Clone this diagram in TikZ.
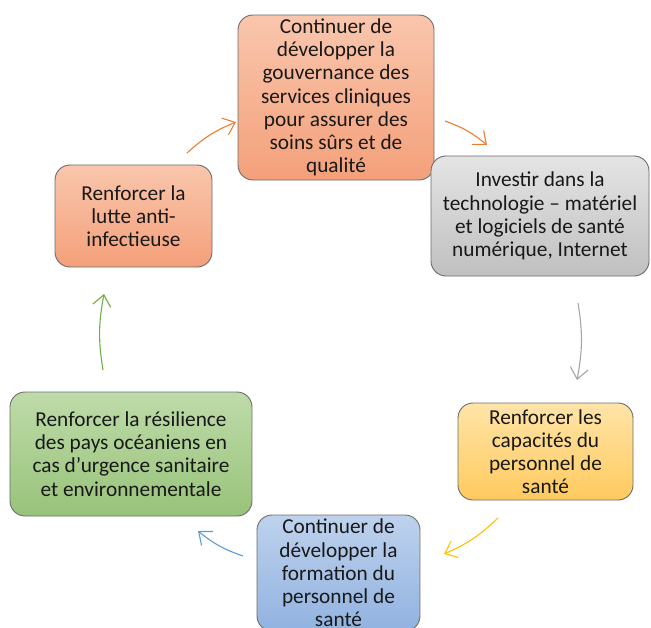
\documentclass[tikz,border=0pt]{standalone}
\usepackage{fontspec}
\setmainfont{Carlito}
\usetikzlibrary{arrows.meta}
\definecolor{boxline}{HTML}{6B6B6B}
\definecolor{orangeTop}{HTML}{F9C6AD}
\definecolor{orangeBot}{HTML}{F4A07A}
\definecolor{grayTop}{HTML}{E4E4E4}
\definecolor{grayBot}{HTML}{C0C0C0}
\definecolor{yellowTop}{HTML}{FFE4A8}
\definecolor{yellowBot}{HTML}{FFCA5E}
\definecolor{greenTop}{HTML}{BEDBA9}
\definecolor{greenBot}{HTML}{98C37A}
\definecolor{blueTop}{HTML}{BED2ED}
\definecolor{blueBot}{HTML}{91B2E0}
\definecolor{arrOrange}{HTML}{ED7D31}
\definecolor{arrGray}{HTML}{A5A5A5}
\definecolor{arrYellow}{HTML}{FFC000}
\definecolor{arrBlue}{HTML}{5B9BD5}
\definecolor{arrGreen}{HTML}{70AD47}

\begin{document}
\begin{tikzpicture}[x=1pt, y=-1pt,
	box/.style={draw=boxline, line width=0.9pt, rounded corners=15pt, align=center,
		inner sep=0pt, text=black!90, font=\fontsize{21.3}{23.2}\selectfont},
	flow/.style={line width=1.1pt, -{Straight Barb[length=11pt,width=18pt]}}]
	\useasboundingbox (0,0) rectangle (651,627);
	\clip (0,0) rectangle (651,627);
	\node[box, top color=orangeTop, bottom color=orangeBot, minimum width=196pt, minimum height=165pt] (gouv) at (336,97.5)
		{Continuer de\\développer la\\gouvernance des\\services cliniques\\pour assurer des\\soins sûrs et de\\qualité};
	\node[box, top color=grayTop, bottom color=grayBot, minimum width=218pt, minimum height=120pt] (techno) at (540,216)
		{Investir dans la\\technologie – matériel\\et logiciels de santé\\numérique, Internet};
	\node[box, top color=yellowTop, bottom color=yellowBot, minimum width=175pt, minimum height=97pt] (capa) at (545.5,451.5)
		{Renforcer les\\capacités du\\personnel de\\santé};
	\node[box, top color=blueTop, bottom color=blueBot, minimum width=163pt, minimum height=116pt] (form) at (338.5,573)
		{Continuer de\\développer la\\formation du\\personnel de\\santé};
	\node[box, top color=greenTop, bottom color=greenBot, minimum width=242pt, minimum height=124pt] (resil) at (131,454)
		{Renforcer la résilience\\des pays océaniens en\\cas d’urgence sanitaire\\et environnementale};
	\node[box, top color=orangeTop, bottom color=orangeBot, minimum width=157pt, minimum height=102pt] (lutte) at (133.5,216)
		{Renforcer la\\lutte anti-\\infectieuse};
	\coordinate (gouvIn) at (236,122);
	\coordinate (gouvOut) at (445,121);
	\coordinate (technoIn) at (487,145);
	\coordinate (technoOut) at (578,303);
	\coordinate (capaIn) at (577,380);
	\coordinate (capaOut) at (498,518);
	\coordinate (formIn) at (444,554);
	\coordinate (formOut) at (243,556);
	\coordinate (resilIn) at (198,531);
	\coordinate (resilOut) at (103,370);
	\coordinate (lutteIn) at (104,294);
	\coordinate (lutteOut) at (187,153);
	\draw[flow, arrOrange] (lutteOut) to[bend left=10] (gouvIn);
	\draw[flow, arrOrange] (gouvOut) to[bend left=10] (technoIn);
	\draw[flow, arrGray] (technoOut) to[bend left=10] (capaIn);
	\draw[flow, arrYellow] (capaOut) to[bend left=10] (formIn);
	\draw[flow, arrBlue] (formOut) to[bend left=10] (resilIn);
	\draw[flow, arrGreen] (resilOut) to[bend left=10] (lutteIn);
\end{tikzpicture}
\end{document}
